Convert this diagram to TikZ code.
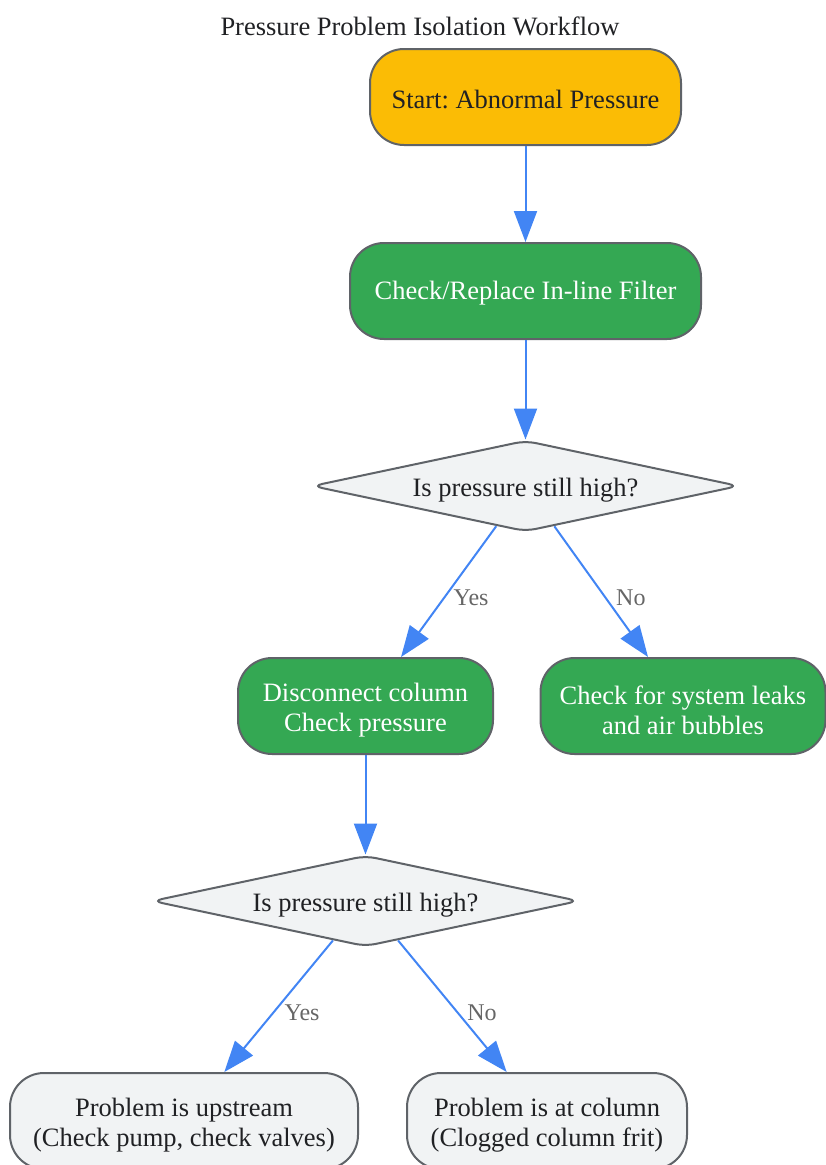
\documentclass[tikz,border=0pt]{standalone}
\usepackage{fontspec}
\setmainfont{Liberation Serif}
\frenchspacing
\usetikzlibrary{arrows.meta,shapes.geometric}
\definecolor{cyellow}{HTML}{FBBC05}
\definecolor{cgreen}{HTML}{34A853}
\definecolor{cgray}{HTML}{F1F3F4}
\definecolor{cborder}{HTML}{5F6368}
\definecolor{cblue}{HTML}{4285F4}
\definecolor{ctext}{HTML}{202124}
\definecolor{clabel}{HTML}{666666}
\tikzset{
  box/.style={rectangle, rounded corners=34pt, draw=cborder, line width=2pt,
    minimum height=96pt, inner sep=0pt},
  yellowbox/.style={box, fill=cyellow},
  greenbox/.style={box, fill=cgreen},
  graybox/.style={box, fill=cgray},
  decision/.style={diamond, aspect=4.7, draw=cborder, line width=2pt, fill=cgray,
    rounded corners=10pt, minimum width=427pt, minimum height=91pt, inner sep=0pt},
  txt/.style={align=center, inner sep=0pt, text=ctext, font=\fontsize{26.5}{30}\selectfont},
  wtxt/.style={txt, text=white},
  arr/.style={draw=cblue, line width=2pt, -{Triangle[length=31pt,width=23pt]}},
  lbl/.style={text=clabel, font=\fontsize{24}{28}\selectfont, inner sep=0pt}
}
\begin{document}
\begin{tikzpicture}[x=1pt,y=-1pt]
\useasboundingbox (0,0) rectangle (825,1165);
\node[txt] (title) at (420,26) {Pressure Problem Isolation Workflow};
\node[yellowbox, minimum width=311pt] (start) at (525.5,97) {};
\node[greenbox, minimum width=351pt] (filter) at (525.5,291) {};
\node[decision] (d1) at (525.5,486) {};
\node[greenbox, minimum width=255pt] (disc) at (365.5,706) {};
\node[greenbox, minimum width=285pt] (leaks) at (683,706) {};
\node[decision] (d2) at (365.5,901) {};
\node[graybox, minimum width=348pt] (up) at (184,1121) {};
\node[graybox, minimum width=280pt] (col) at (547,1121) {};

\node[txt] (tstart) at ([yshift=-2.5pt]start.center) {Start: Abnormal Pressure};
\node[wtxt] (tfilter) at ([yshift=-2.5pt]filter.center) {Check/Replace In-line Filter};
\node[txt] (td1) at ([yshift=-4.5pt]d1.center) {Is pressure still high?};
\node[wtxt] (tdisc) at ([yshift=-4pt]disc.center) {Disconnect column\\Check pressure};
\node[wtxt] (tleaks) at ([yshift=-4pt]leaks.center) {Check for system leaks\\and air bubbles};
\node[txt] (td2) at ([yshift=-4.5pt]d2.center) {Is pressure still high?};
\node[txt] (tup) at ([yshift=-4pt]up.center) {Problem is upstream\\(Check pump, check valves)};
\node[txt] (tcol) at ([yshift=-4pt]col.center) {Problem is at column\\(Clogged column frit)};

\draw[arr] (start) -- (filter);
\draw[arr] (filter) -- (d1);
\draw[arr] (d1) -- node[lbl, right=4pt, yshift=-6pt, pos=0.5] {Yes} (disc);
\draw[arr] (d1) -- node[lbl, right=14pt, yshift=-6pt, pos=0.5] {No} (leaks);
\draw[arr] (disc) -- (d2);
\draw[arr] (d2) -- node[lbl, right=5pt, yshift=-7pt, pos=0.5] {Yes} (up);
\draw[arr] (d2) -- node[lbl, right=14pt, yshift=-7pt, pos=0.5] {No} (col);
\end{tikzpicture}
\end{document}
